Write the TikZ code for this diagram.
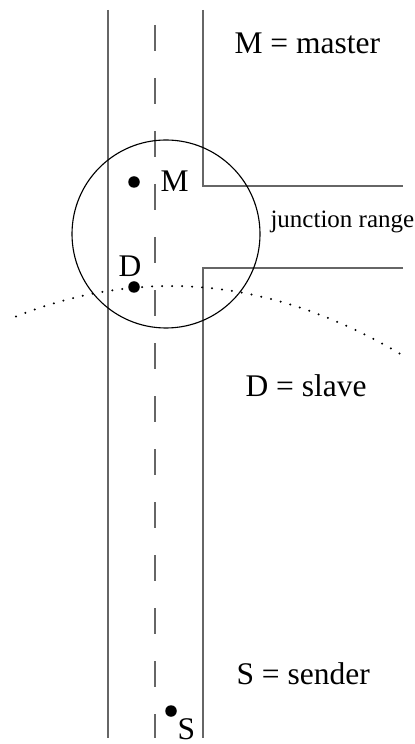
\documentclass[tikz,border=0pt]{standalone}
\usepackage{fontspec}
\setmainfont{Liberation Serif}
\usetikzlibrary{positioning}

\begin{document}
\begin{tikzpicture}[
    x=0.4pt, y=-0.4pt,
    road/.style={draw=black!60, line width=0.7pt},
    midline/.style={draw=black!60, line width=0.7pt, dash pattern=on 10.4pt off 10.8pt},
    rangecircle/.style={draw=black, line width=0.45pt},
    horizon/.style={draw=black, line width=0.9pt, line cap=round, dash pattern=on 0pt off 4pt},
    station/.style={circle, fill=black, inner sep=0pt, minimum size=4.6pt},
    tag/.style={font=\fontsize{12.6}{15}\selectfont, inner sep=0pt, anchor=base west},
    smalltag/.style={font=\fontsize{10}{12}\selectfont, inner sep=0pt, anchor=base west},
]
\useasboundingbox (0,0) rectangle (414,744);

% Road with a junction to the right
\draw[road] (108,10) -- (108,738);
\draw[road] (203,10) -- (203,186) -- (403,186);
\draw[road] (403,268) -- (203,268) -- (203,738);
\draw[midline] (155,25) -- (155,738);

% Junction range and radio horizon
\draw[rangecircle] (166,234) circle[radius=94];
\coordinate (hleft) at (16,316.4);
\coordinate (hright) at (402,354.9);
\draw[horizon] (hleft) .. controls (144.7,265.7) and (273.3,278.5) .. (hright);

% Stations
\node[station] (m) at (134,182) {};
\node[station] (d) at (134,287) {};
\node[station] (s) at (171,711) {};
\node[tag] (mlabel) at (160,192) {M};
\node[tag] (dlabel) at (118,277) {D};
\node[tag] (slabel) at (177,739) {S};

% Legend
\node[tag] (master) at (234,54) {M = master};
\node[smalltag] (junction) at (270,228) {junction range};
\node[tag] (slave) at (245,397) {D = slave};
\node[tag] (sender) at (236,684) {S = sender};

\end{tikzpicture}
\end{document}
